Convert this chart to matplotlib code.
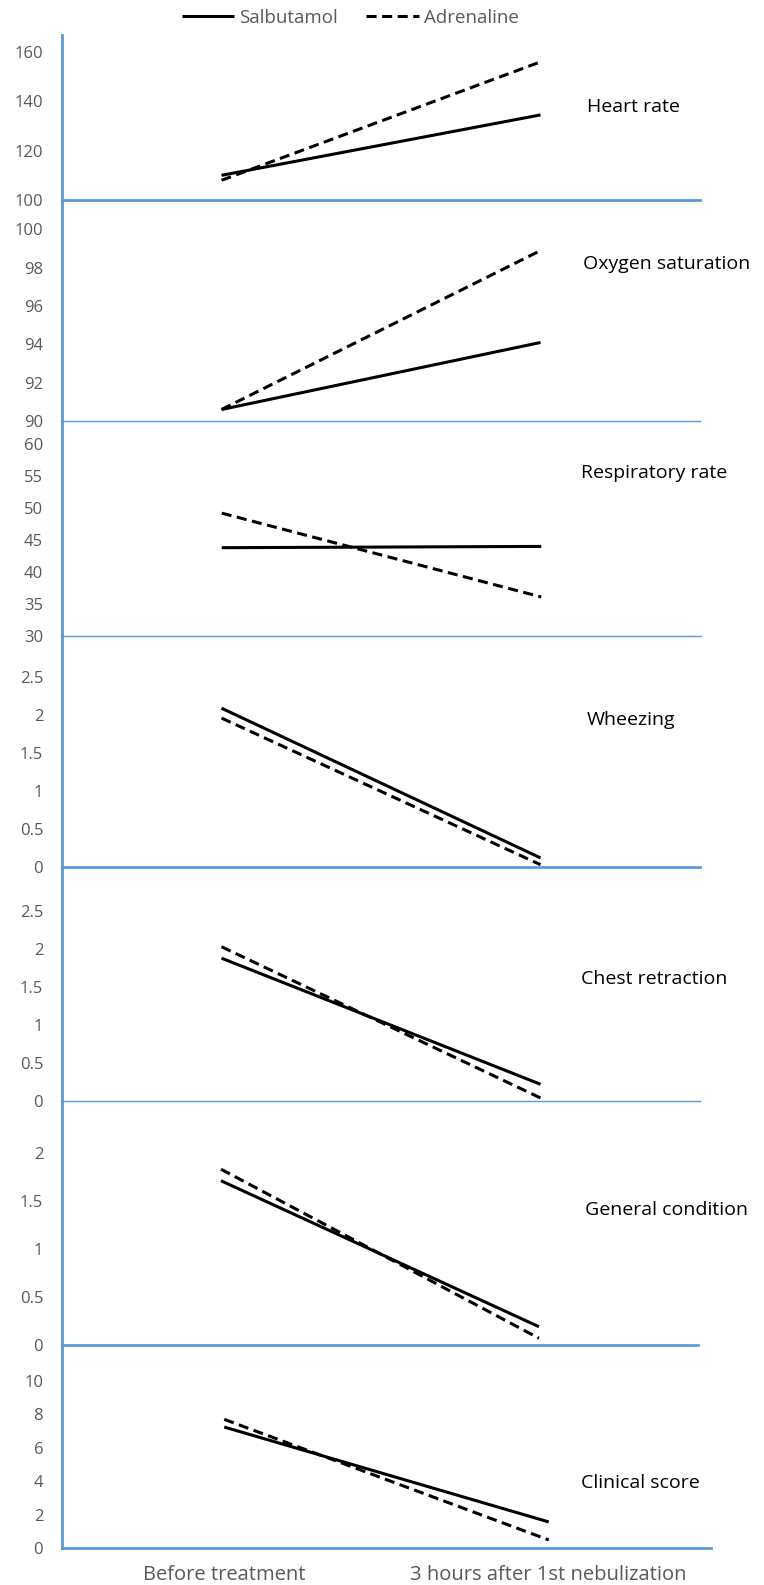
import matplotlib.pyplot as plt

plt.rcParams['font.family'] = ['Open Sans', 'DejaVu Sans']

# data
categories = ["Before treatment", "3 hours after 1st nebulization"]
panels = ["Heart rate", "Oxygen saturation", "Respiratory rate", "Wheezing",
          "Chest retraction", "General condition", "Clinical score"]
salbutamol = [[110, 134.5], [90.6, 94.1], [43.8, 44.0], [2.09, 0.12],
              [1.88, 0.22], [1.71, 0.19], [7.24, 1.56]]
adrenaline = [[108, 156], [90.6, 98.9], [49.2, 36.1], [1.96, 0.03],
              [2.03, 0.04], [1.83, 0.07], [7.7, 0.48]]
ylims = [(100, 166.9), (90, 101.54), (30, 63.6), (0, 3.04), (0, 3.08), (0, 2.54), (0, 12.15)]
yticks = [[100, 120, 140, 160], [90, 92, 94, 96, 98, 100], [30, 35, 40, 45, 50, 55, 60],
          [0, 0.5, 1, 1.5, 2, 2.5], [0, 0.5, 1, 1.5, 2, 2.5], [0, 0.5, 1, 1.5, 2],
          [0, 2, 4, 6, 8, 10]]

W, H = 764, 1585
BLUE = '#5B9BD5'
GREY = '#595959'

# panel boxes in pixels: top, bottom, right
boxes = [(35, 200, 700), (200, 421, 700), (421, 636, 701), (636, 867, 700),
         (867, 1101, 700), (1101, 1345, 698), (1345, 1548, 711)]
base_lw = [2, 1, 1, 2, 1, 2, 2]
label_pos = [(587, 112), (583, 269), (581, 478), (587, 725), (581, 984), (585, 1215), (581, 1488)]

fig = plt.figure(figsize=(W / 100, H / 100), dpi=100)
left = 62
for i, (top, bottom, right) in enumerate(boxes):
    ax = fig.add_axes([left / W, 1 - bottom / H, (right - left) / W, (bottom - top) / H])
    ax.patch.set_alpha(0)
    s, = ax.plot([0, 1], salbutamol[i], color='black', lw=2.2, solid_capstyle='butt')
    a, = ax.plot([0, 1], adrenaline[i], color='black', lw=2.2, linestyle=(0, (3.3, 1.8)))
    ax.set_xlim(-0.5, 1.5)
    ax.set_ylim(*ylims[i])
    ax.set_yticks(yticks[i])
    ax.set_yticklabels([f"{t:g}" for t in yticks[i]])
    ax.tick_params(axis='y', length=0, pad=13.5, labelsize=12, labelcolor=GREY)
    for side in ['top', 'right']:
        ax.spines[side].set_visible(False)
    ax.spines['left'].set_color(BLUE)
    ax.spines['left'].set_linewidth(2)
    ax.spines['bottom'].set_color(BLUE)
    ax.spines['bottom'].set_linewidth(base_lw[i])
    if i == len(boxes) - 1:
        ax.set_xticks([0, 1])
        ax.set_xticklabels(categories)
        ax.tick_params(axis='x', length=0, pad=12, labelsize=14.5, labelcolor=GREY)
    else:
        ax.set_xticks([])
    fig.text(label_pos[i][0] / W, 1 - label_pos[i][1] / H, panels[i], ha='left',
             va='baseline', fontsize=14, color='black')
    if i == 0:
        handles = [s, a]

fig.legend(handles, ["Salbutamol", "Adrenaline"], loc='center', ncol=2,
           bbox_to_anchor=(350 / W, 1 - 18 / H), frameon=False, fontsize=13.5,
           labelcolor=GREY, handlelength=2.8, handletextpad=0.27, columnspacing=1.5)

fig.savefig('out.png', dpi=100)
